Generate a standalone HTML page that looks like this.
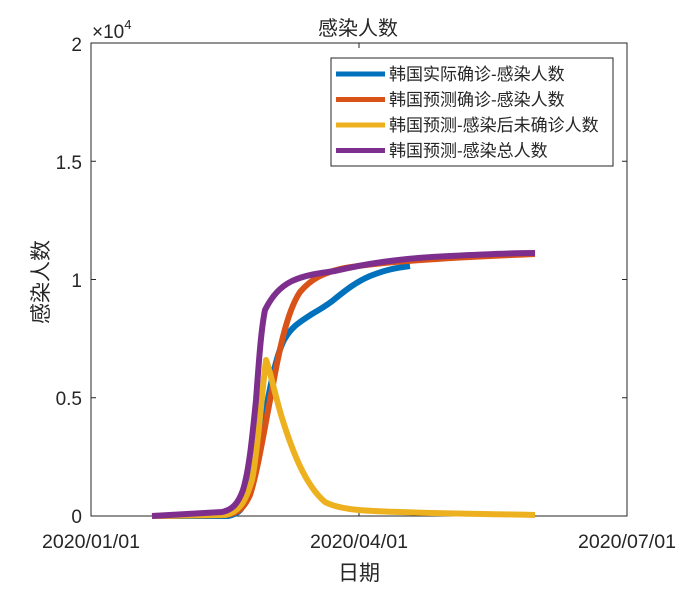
<!DOCTYPE html>
<html><head><meta charset="utf-8"><style>
body{margin:0;background:#fff;}
svg text{font-family:"Liberation Sans","Noto Sans CJK SC",sans-serif;fill:#262626;}
</style></head><body>
<svg width="693" height="587" xmlns="http://www.w3.org/2000/svg">
<rect width="693" height="587" fill="#fff"/>
<rect x="91" y="43" width="536" height="473" fill="none" stroke="#262626" stroke-width="1"/>
<g stroke="#262626" stroke-width="1">
<line x1="91" y1="397.75" x2="96" y2="397.75"/><line x1="91" y1="279.5" x2="96" y2="279.5"/><line x1="91" y1="161.25" x2="96" y2="161.25"/>
<line x1="622" y1="397.75" x2="627" y2="397.75"/><line x1="622" y1="279.5" x2="627" y2="279.5"/><line x1="622" y1="161.25" x2="627" y2="161.25"/>
<line x1="359" y1="516" x2="359" y2="511"/><line x1="359" y1="43" x2="359" y2="48"/>
</g>
<g font-size="19" text-anchor="end">
<text x="82" y="523">0</text><text x="82" y="405">0.5</text><text x="82" y="287">1</text><text x="82" y="169">1.5</text><text x="82" y="51">2</text>
</g>
<text x="92" y="38" font-size="19">×10<tspan font-size="13" dy="-9">4</tspan></text>
<g font-size="19" text-anchor="middle">
<text x="91" y="548" textLength="98" lengthAdjust="spacingAndGlyphs">2020/01/01</text>
<text x="359" y="548" textLength="98" lengthAdjust="spacingAndGlyphs">2020/04/01</text>
<text x="627" y="548" textLength="98" lengthAdjust="spacingAndGlyphs">2020/07/01</text>
<text x="359" y="580" font-size="21">日期</text>
<text x="358" y="35" font-size="20">感染人数</text>
<text transform="translate(48,282) rotate(-90)" font-size="21">感染人数</text>
</g>
<g fill="none" stroke-width="6" stroke-linejoin="round" stroke-linecap="butt">
<path stroke="#0072BD" d="M152,516 L228,516 C238,514 242,510 246,500 C252,480 256,455 262,430 C268,400 274,360 284,340 C292,326 300,322 312,314 C322,308 328,305 336,298 C346,290 356,282 370,276 C385,270 395,268 410,266"/>
<path stroke="#D95319" d="M152,516 L225,515 C238,514 244,508 250,495 C258,470 264,430 272,390 C280,345 288,310 300,292 C312,278 325,272 345,268 C380,262 440,258 535,254"/>
<path stroke="#EDB120" d="M152,516 L225,515 C240,512 246,500 252,480 C258,450 262,390 266,360 C270,370 275,395 282,418 C292,450 305,485 325,502 C340,510 365,511 400,512 C450,514 500,514 535,515"/>
<path stroke="#7E2F8E" d="M152,516 L222,512 C232,510 238,504 243,490 C249,470 252,440 256,400 C259,360 261,330 265,310 C272,296 280,287 292,281 C305,275 320,273 335,271 C360,265 400,258 450,256 C490,254 515,253 535,253"/>
</g>
<rect x="331" y="58" width="282" height="108" fill="#fff" stroke="#262626" stroke-width="1"/>
<g stroke-width="5">
<line x1="336" y1="74" x2="385" y2="74" stroke="#0072BD"/>
<line x1="336" y1="99.5" x2="385" y2="99.5" stroke="#D95319"/>
<line x1="336" y1="125" x2="385" y2="125" stroke="#EDB120"/>
<line x1="336" y1="150.5" x2="385" y2="150.5" stroke="#7E2F8E"/>
</g>
<g font-size="17">
<text x="389" y="80">韩国实际确诊-感染人数</text>
<text x="389" y="105.5">韩国预测确诊-感染人数</text>
<text x="389" y="131">韩国预测-感染后未确诊人数</text>
<text x="389" y="156.5">韩国预测-感染总人数</text>
</g>
</svg>
</body></html>
